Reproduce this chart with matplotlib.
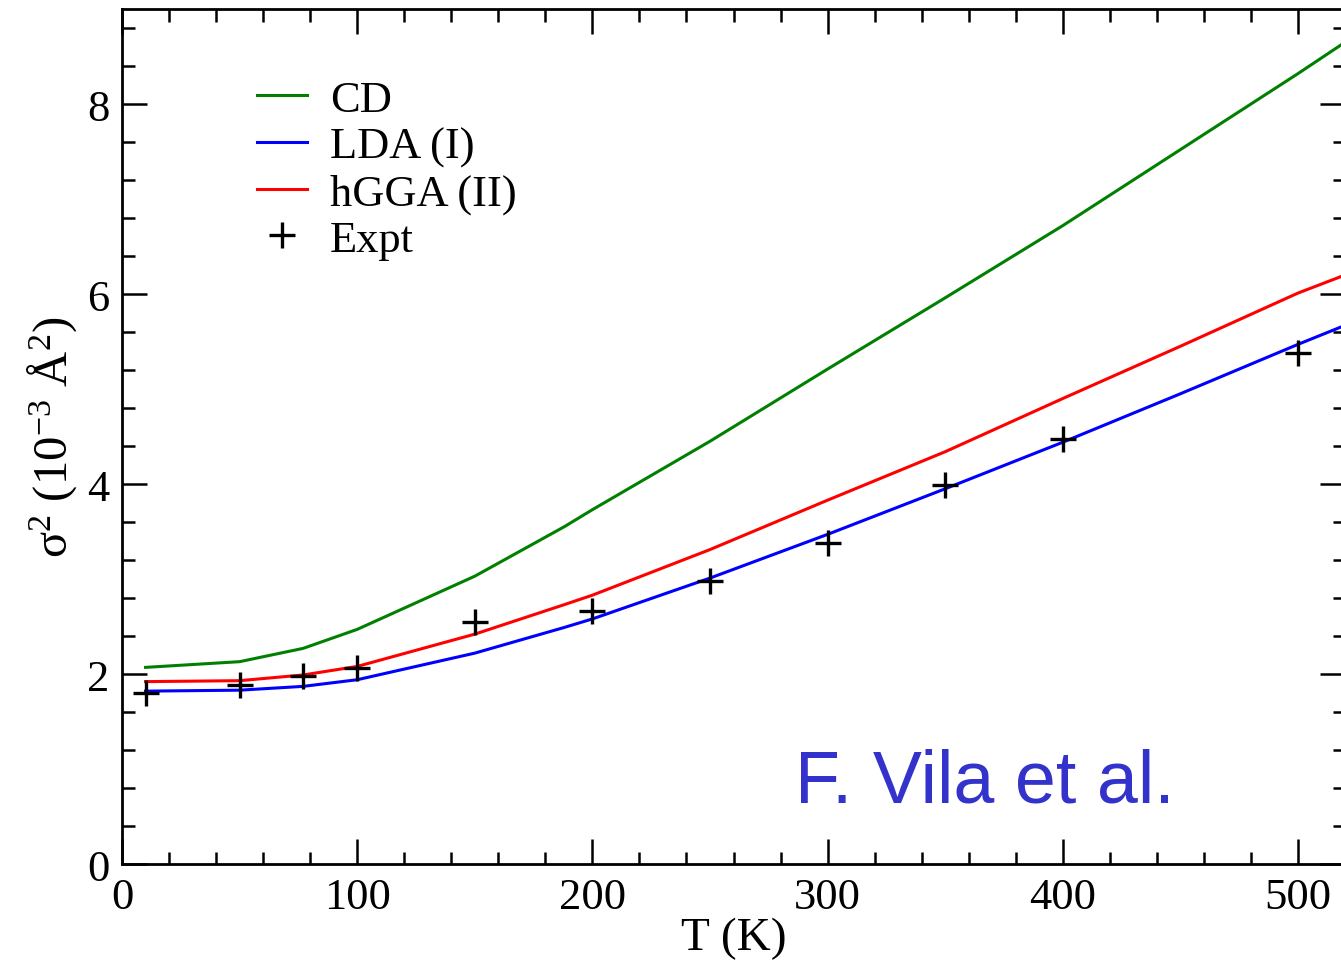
import matplotlib
matplotlib.use('Agg')
import matplotlib.pyplot as plt
from matplotlib.ticker import MultipleLocator

plt.rcParams['font.family'] = 'Liberation Serif'
plt.rcParams['mathtext.fontset'] = 'custom'
plt.rcParams['mathtext.rm'] = 'Liberation Serif'
plt.rcParams['mathtext.it'] = 'Liberation Serif:italic'

# temperatures (K) and sigma^2 (10^-3 A^2)
T_calc = [10, 50, 77, 100, 150, 188, 200, 250, 300, 350, 400, 450, 500, 520]
cd = [2.07, 2.13, 2.27, 2.47, 3.03, 3.55, 3.73, 4.45, 5.21, 5.96, 6.72, 7.52, 8.32, 8.65]
lda = [1.82, 1.83, 1.87, 1.94, 2.22, 2.49, 2.58, 3.01, 3.47, 3.95, 4.44, 4.95, 5.47, 5.67]
hgga = [1.92, 1.93, 1.99, 2.08, 2.42, 2.73, 2.83, 3.31, 3.83, 4.34, 4.90, 5.45, 6.01, 6.20]

T_expt = [10, 50, 77, 100, 150, 200, 250, 300, 350, 400, 500]
expt = [1.80, 1.88, 1.98, 2.06, 2.55, 2.66, 2.98, 3.38, 3.99, 4.47, 5.38]

fig = plt.figure(figsize=(13.41, 9.62), dpi=100)
ax = fig.add_axes([0.091, 0.1008, 0.912, 0.8888])

lw = 2.2
ax.plot(T_calc, cd, color='#008000', lw=lw, label='CD')
ax.plot(T_calc, lda, color='#0000ff', lw=lw, label='LDA (I)')
ax.plot(T_calc, hgga, color='#ff0000', lw=lw, label='hGGA (II)')
ax.plot(T_expt, expt, ls='none', marker='+', ms=19, mew=2.4, color='black', label='Expt')

ax.set_xlim(0, 520)
ax.set_ylim(0, 9)
ax.xaxis.set_major_locator(MultipleLocator(100))
ax.xaxis.set_minor_locator(MultipleLocator(20))
ax.yaxis.set_major_locator(MultipleLocator(2))
ax.yaxis.set_minor_locator(MultipleLocator(0.4))
ax.tick_params(which='both', direction='in', top=True, right=True, width=1.8, labelsize=32, pad=9)
ax.tick_params(which='major', length=18)
ax.tick_params(which='minor', length=9)
for s in ax.spines.values():
    s.set_linewidth(2.0)

ax.set_xlabel('T (K)', fontsize=34, labelpad=0)
ax.set_ylabel(r'σ$^{2}$ (10$^{-3}$ Å$^{2}$)', fontsize=35, labelpad=6)

ax.legend(loc='upper left', bbox_to_anchor=(0.096, 0.938), frameon=False, fontsize=32,
          handlelength=1.12, handletextpad=0.52, labelspacing=0.14, borderaxespad=0)

ax.text(0.550, 0.0737, 'F. Vila et al.', transform=ax.transAxes, family='Liberation Sans',
        fontsize=53, color='#3333cc', va='baseline')

fig.savefig('out.png', dpi=100)
